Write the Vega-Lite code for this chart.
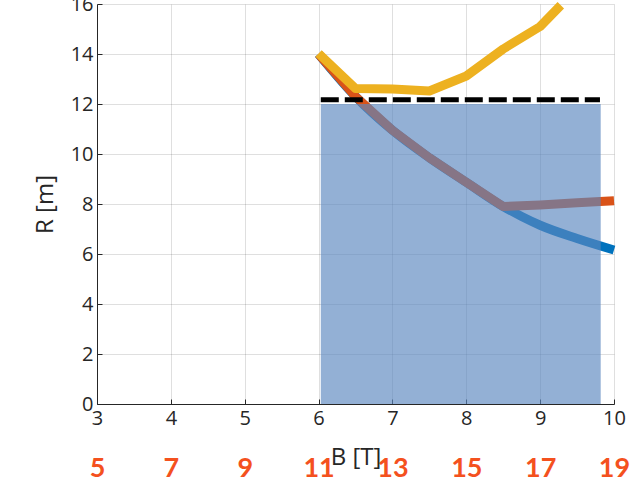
{
  "$schema": "https://vega.github.io/schema/vega-lite/v6.json",
  "width": 517,
  "height": 400,
  "autosize": {"type": "none"},
  "padding": {"left": 97, "top": 4, "right": 27, "bottom": 84},
  "background": "white",
  "config": {
    "font": "Open Sans",
    "view": {"stroke": null},
    "axis": {
      "domainColor": "#262626",
      "domainWidth": 1,
      "tickColor": "#262626",
      "tickSize": -5,
      "labelColor": "#262626",
      "labelFontSize": 20,
      "labelFlush": false,
      "titleColor": "#262626",
      "titleFontSize": 24,
      "titleFontWeight": "normal",
      "gridColor": "#262626",
      "gridOpacity": 0.15
    }
  },
  "datasets": {
    "curves": [
      {"B": 6.0, "R": 14.0, "series": "blue"},
      {"B": 6.5, "R": 12.3, "series": "blue"},
      {"B": 7.0, "R": 10.95, "series": "blue"},
      {"B": 7.5, "R": 9.85, "series": "blue"},
      {"B": 8.0, "R": 8.87, "series": "blue"},
      {"B": 8.5, "R": 7.9, "series": "blue"},
      {"B": 8.75, "R": 7.5, "series": "blue"},
      {"B": 9.0, "R": 7.15, "series": "blue"},
      {"B": 9.5, "R": 6.62, "series": "blue"},
      {"B": 10.0, "R": 6.16, "series": "blue"},
      {"B": 6.0, "R": 14.0, "series": "red"},
      {"B": 6.5, "R": 12.3, "series": "red"},
      {"B": 7.0, "R": 10.95, "series": "red"},
      {"B": 7.5, "R": 9.85, "series": "red"},
      {"B": 8.0, "R": 8.87, "series": "red"},
      {"B": 8.5, "R": 7.9, "series": "red"},
      {"B": 9.0, "R": 7.96, "series": "red"},
      {"B": 9.5, "R": 8.05, "series": "red"},
      {"B": 10.0, "R": 8.13, "series": "red"},
      {"B": 6.0, "R": 14.02, "series": "yellow"},
      {"B": 6.5, "R": 12.62, "series": "yellow"},
      {"B": 7.0, "R": 12.6, "series": "yellow"},
      {"B": 7.5, "R": 12.52, "series": "yellow"},
      {"B": 8.0, "R": 13.12, "series": "yellow"},
      {"B": 8.5, "R": 14.2, "series": "yellow"},
      {"B": 9.0, "R": 15.1, "series": "yellow"},
      {"B": 9.28, "R": 15.95, "series": "yellow"}
    ],
    "region": [{"B": 6.03, "B2": 9.82, "R": 0, "R2": 12.0}],
    "limit": [{"B": 6.03, "B2": 9.81, "R": 12.17}],
    "scale2": [{"n": 5}, {"n": 19}]
  },
  "layer": [
    {
      "encoding": {
        "x": {
          "field": "B",
          "type": "quantitative",
          "scale": {"domain": [3, 10], "nice": false, "zero": false},
          "axis": {"title": "B [T]", "values": [3, 4, 5, 6, 7, 8, 9, 10], "labelPadding": 9, "titlePadding": 17}
        },
        "y": {
          "field": "R",
          "type": "quantitative",
          "scale": {"domain": [0, 16], "nice": false},
          "axis": {"title": "R [m]", "values": [0, 2, 4, 6, 8, 10, 12, 14, 16], "labelPadding": 9, "titlePadding": 13}
        }
      },
      "layer": [
        {
          "data": {"name": "curves"},
          "transform": [{"filter": "datum.series === 'blue'"}],
          "mark": {"type": "line", "color": "#0072BD", "strokeWidth": 9, "strokeCap": "butt", "strokeJoin": "round", "interpolate": "monotone"}
        },
        {
          "data": {"name": "curves"},
          "transform": [{"filter": "datum.series === 'red'"}],
          "mark": {"type": "line", "color": "#D95319", "strokeWidth": 9, "strokeCap": "butt", "strokeJoin": "round"}
        },
        {
          "data": {"name": "region"},
          "mark": {"type": "rect", "color": "#5B87C0", "opacity": 0.66},
          "encoding": {"x2": {"field": "B2"}, "y2": {"field": "R2"}}
        },
        {
          "data": {"name": "curves"},
          "transform": [{"filter": "datum.series === 'yellow'"}],
          "mark": {"type": "line", "color": "#EDB120", "strokeWidth": 9, "strokeCap": "butt", "strokeJoin": "round"}
        },
        {
          "data": {"name": "limit"},
          "mark": {"type": "rule", "color": "black", "strokeWidth": 5, "strokeDash": [18, 6]},
          "encoding": {"x2": {"field": "B2"}}
        }
      ]
    },
    {
      "data": {"name": "scale2"},
      "mark": {"type": "rule", "opacity": 0},
      "encoding": {
        "x": {
          "field": "n",
          "type": "quantitative",
          "scale": {"domain": [5, 19], "nice": false, "zero": false},
          "axis": {
            "orient": "bottom",
            "title": null,
            "values": [5, 7, 9, 11, 13, 15, 17, 19],
            "domain": false,
            "ticks": false,
            "grid": false,
            "offset": 43,
            "labelPadding": 8,
            "labelFont": "Lato",
            "labelFontWeight": "bold",
            "labelFontSize": 27,
            "labelColor": "#F4511E"
          }
        }
      }
    }
  ],
  "resolve": {"scale": {"x": "independent"}}
}
